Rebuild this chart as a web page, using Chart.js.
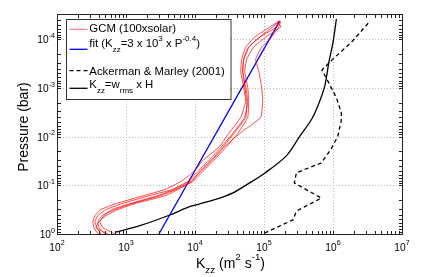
<!DOCTYPE html>
<html>
<head>
<meta charset="utf-8">
<title>Kzz profiles</title>
<script src="https://cdn.jsdelivr.net/npm/chart.js"></script>
<style>
  body { margin: 0; background: #fff; }
  #wrap { width: 436px; height: 277px; position: relative; }
</style>
</head>
<body>
<div id="wrap"><canvas id="kzz"></canvas></div>
<script>
// pressure levels (bar) shared by the GCM profiles
const gcmPressure = [1, 0.741, 0.558, 0.419, 0.315, 0.237, 0.162, 0.122, 0.0835, 0.0519, 0.0294, 0.0166, 0.00855, 0.0040, 0.00187, 0.000964, 0.000451, 0.000255, 0.000144, 0.0000897, 0.0000557, 0.000042];
// Kzz (m2/s) of the GCM profiles, 100x solar
const gcmKzz1 = [392, 343, 332, 355, 433, 714, 1816, 3656, 6232, 9607, 13410, 22110, 30840, 46010, 54340, 50840, 46010, 47570, 54340, 73340, 120900, 168700];
const gcmKzz2 = [433, 379, 355, 392, 512, 872, 2218, 4617, 7868, 10980, 16380, 23630, 35240, 52560, 58090, 54340, 49180, 50840, 60060, 86660, 133600, 168700];
const gcmKzz3 = [495, 405, 392, 448, 691, 1217, 3200, 5275, 9294, 12970, 19340, 27910, 41630, 58090, 60060, 58090, 52560, 56190, 70940, 105800, 174400, 157900];
const gcmKzz4 = [691, 463, 419, 479, 625, 1139, 2894, 4935, 8411, 12130, 18100, 26110, 44500, 89590, 95760, 92630, 83820, 75830, 92630, 129300, 163200, 174400];
const gcmKzz5 = [547, 367, 405, 512, 764, 1345, 3780, 5639, 8989, 11730, 17510, 25260, 36430, 54340, 56190, 52560, 49180, 50840, 60060, 86660, 152700, 163200];

// fit Kzz = 3e3 x P^-0.4, end points
const fitKzz = [3000, 168700];
const fitPressure = [1, 0.000042];

// Ackerman & Marley (2001)
const amKzz = [102000, 263000, 295000, 676000, 275000, 295000, 676000, 933000, 1175000, 1320000, 1320000, 1120000, 891000, 692000, 1000000, 1840000, 3470000];
const amPressure = [0.955, 0.513, 0.339, 0.182, 0.0891, 0.055, 0.0347, 0.0182, 0.00977, 0.00457, 0.00324, 0.00158, 0.000832, 0.000427, 0.000251, 0.000115, 0.0000417];

// Kzz = w_rms x H
const wrmsKzz = [692, 1585, 4315, 8318, 11750, 22900, 35500, 61700, 100000, 209000, 331000, 490000, 603000, 759000, 871000, 1000000, 1120000];
const wrmsPressure = [0.93, 0.676, 0.407, 0.275, 0.240, 0.182, 0.143, 0.0891, 0.0575, 0.0251, 0.00977, 0.00437, 0.00234, 0.000912, 0.000295, 0.000115, 0.000038];

// tick labels (powers of ten)
const xTickPowers = [2, 3, 4, 5, 6, 7];
const yTickPowers = [0, -1, -2, -3, -4];

const FONT = '"Liberation Sans", Arial, Helvetica, sans-serif';

function profile(kzz, pres) {
  return kzz.map((k, i) => ({ x: k, y: pres[i] }));
}

// draws text made of normal / sub / sup pieces
function richText(ctx, parts, x, y, size, align) {
  const small = size * 0.7;
  let w = 0;
  parts.forEach(p => {
    ctx.font = (p[1] === 'n' ? size : small) + 'px ' + FONT;
    w += ctx.measureText(p[0]).width;
  });
  let cx = align === 'center' ? x - w / 2 : align === 'right' ? x - w : x;
  ctx.textAlign = 'left';
  ctx.textBaseline = 'alphabetic';
  parts.forEach(p => {
    const s = p[1] === 'n' ? size : small;
    const dy = p[1] === 'sup' ? -size * 0.52 : p[1] === 'sub' ? size * 0.42 : 0;
    ctx.font = s + 'px ' + FONT;
    ctx.fillText(p[0], cx, y + dy);
    cx += ctx.measureText(p[0]).width;
  });
}

const legendRows = [
  { parts: [['GCM (100xsolar)', 'n']], color: '#ff8080', dash: [], width: 1.2, lineY: 29.3, textY: 32.4 },
  { parts: [['fit (K', 'n'], ['zz', 'sub'], ['=3 x 10', 'n'], ['3', 'sup'], [' x P', 'n'], ['-0.4', 'sup'], [')', 'n']], color: '#0000ff', dash: [], width: 1.3, lineY: 49.3, textY: 46.8 },
  { parts: [['Ackerman & Marley (2001)', 'n']], color: '#000', dash: [4, 3], width: 1.3, lineY: 70.7, textY: 74.8 },
  { parts: [['K', 'n'], ['zz', 'sub'], ['=w', 'n'], ['rms', 'sub'], [' x H', 'n']], color: '#000', dash: [], width: 1.3, lineY: 88.3, textY: 88.3 }
];

const frame = {
  id: 'frame',
  beforeDatasetsDraw(chart) {
    const { ctx, chartArea: a, scales: { x, y } } = chart;
    ctx.save();
    ctx.strokeStyle = '#b8b8b8';
    ctx.lineWidth = 1;
    ctx.setLineDash([1, 2]);
    xTickPowers.forEach(p => {
      const px = Math.round(x.getPixelForValue(Math.pow(10, p))) + 0.5;
      if (px <= a.left + 1 || px >= a.right - 1) return;
      ctx.beginPath(); ctx.moveTo(px, a.top); ctx.lineTo(px, a.bottom); ctx.stroke();
    });
    yTickPowers.forEach(p => {
      const py = Math.round(y.getPixelForValue(Math.pow(10, p))) + 0.5;
      if (py <= a.top + 1 || py >= a.bottom - 1) return;
      ctx.beginPath(); ctx.moveTo(a.left, py); ctx.lineTo(a.right, py); ctx.stroke();
    });
    ctx.restore();
  },
  afterDatasetsDraw(chart) {
    const { ctx, chartArea: a, scales: { x, y } } = chart;
    ctx.save();
    ctx.strokeStyle = '#222';
    ctx.lineWidth = 1;
    const L = Math.round(a.left) + 0.5, R = Math.round(a.right) + 0.5;
    const T = Math.round(a.top) + 0.5, B = Math.round(a.bottom) + 0.5;
    ctx.strokeRect(L, T, R - L, B - T);
    // inside tick marks on all four sides, major and minor
    const tl = 3.5;
    ctx.beginPath();
    for (let e = 2; e <= 7; e++) {
      for (let d = 1; d <= 9; d++) {
        const v = d * Math.pow(10, e);
        if (v < x.min || v > x.max) continue;
        const px = Math.round(x.getPixelForValue(v)) + 0.5;
        ctx.moveTo(px, B); ctx.lineTo(px, B - tl);
        ctx.moveTo(px, T); ctx.lineTo(px, T + tl);
      }
    }
    for (let e = -5; e <= 0; e++) {
      for (let d = 1; d <= 9; d++) {
        const v = d * Math.pow(10, e);
        if (v < y.min * 0.999 || v > y.max * 1.001) continue;
        const py = Math.round(y.getPixelForValue(v)) + 0.5;
        ctx.moveTo(L, py); ctx.lineTo(L + tl, py);
        ctx.moveTo(R, py); ctx.lineTo(R - tl, py);
      }
    }
    ctx.stroke();
    ctx.restore();
  },
  afterDraw(chart) {
    const { ctx, chartArea: a, scales: { x, y } } = chart;
    ctx.save();
    ctx.fillStyle = '#000';
    xTickPowers.forEach(p => {
      richText(ctx, [['10', 'n'], [String(p), 'sup']], x.getPixelForValue(Math.pow(10, p)), a.bottom + 16.5, 10.2, 'center');
    });
    yTickPowers.forEach(p => {
      richText(ctx, [['10', 'n'], [String(p), 'sup']], a.left - 2, y.getPixelForValue(Math.pow(10, p)) + 4, 10.2, 'right');
    });
    // axis titles
    richText(ctx, [['K', 'n'], ['zz', 'sub'], [' (m', 'n'], ['2', 'sup'], [' s', 'n'], ['-1', 'sup'], [')', 'n']], (a.left + a.right) / 2 + 1, 267.5, 14, 'center');
    ctx.save();
    ctx.translate(28.3, 127);
    ctx.rotate(-Math.PI / 2);
    richText(ctx, [['Pressure (bar)', 'n']], 0, 0, 14, 'center');
    ctx.restore();

    // legend box
    ctx.fillStyle = '#fff';
    ctx.fillRect(66.5, 19.5, 164.5, 80);
    ctx.strokeStyle = '#333';
    ctx.lineWidth = 1;
    ctx.strokeRect(66.5, 19.5, 164.5, 80);
    legendRows.forEach(r => {
      ctx.strokeStyle = r.color;
      ctx.lineWidth = r.width;
      ctx.setLineDash(r.dash);
      ctx.beginPath(); ctx.moveTo(69.5, r.lineY); ctx.lineTo(87.5, r.lineY); ctx.stroke();
      ctx.setLineDash([]);
      ctx.fillStyle = '#000';
      richText(ctx, r.parts, 89.3, r.textY, 11.4, 'left');
    });
    ctx.restore();
  }
};

const red = { borderColor: 'rgba(255,0,0,0.9)', borderWidth: 0.8, tension: 0.12 };

new Chart(document.getElementById('kzz'), {
  type: 'scatter',
  data: {
    datasets: [
      Object.assign({ label: 'GCM (100xsolar)', data: profile(gcmKzz1, gcmPressure) }, red),
      Object.assign({ label: 'GCM 2', data: profile(gcmKzz2, gcmPressure) }, red),
      Object.assign({ label: 'GCM 3', data: profile(gcmKzz3, gcmPressure) }, red),
      Object.assign({ label: 'GCM 4', data: profile(gcmKzz4, gcmPressure) }, red),
      Object.assign({ label: 'GCM 5', data: profile(gcmKzz5, gcmPressure) }, red),
      { label: 'fit', data: profile(fitKzz, fitPressure), borderColor: '#0000ff', borderWidth: 1.3 },
      { label: 'Ackerman & Marley (2001)', data: profile(amKzz, amPressure), borderColor: '#000', borderWidth: 1.3, borderDash: [4, 3] },
      { label: 'Kzz=wrms x H', data: profile(wrmsKzz, wrmsPressure), borderColor: '#000', borderWidth: 1.3, tension: 0.3 }
    ].map(d => Object.assign({ showLine: true, pointRadius: 0, fill: false }, d))
  },
  options: {
    responsive: true,
    maintainAspectRatio: false,
    animation: false,
    layout: { padding: { top: 14, right: 34, left: 0, bottom: 0 } },
    plugins: { legend: { display: false }, tooltip: { enabled: false } },
    scales: {
      x: {
        type: 'logarithmic', min: 100, max: 1e7,
        ticks: { display: false },
        grid: { display: false, drawTicks: false },
        border: { display: false },
        afterFit: s => { s.height = 43; }
      },
      y: {
        type: 'logarithmic', min: 3e-5, max: 1, reverse: true,
        ticks: { display: false },
        grid: { display: false, drawTicks: false },
        border: { display: false },
        afterFit: s => { s.width = 57; }
      }
    }
  },
  plugins: [frame]
});
</script>
</body>
</html>
